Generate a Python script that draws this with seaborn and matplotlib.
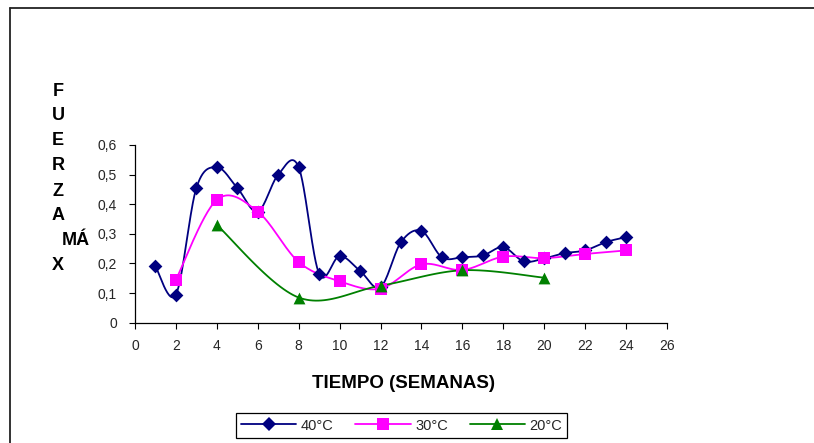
import numpy as np
import pandas as pd
import matplotlib
matplotlib.use("Agg")
import matplotlib.pyplot as plt
from matplotlib.lines import Line2D
import seaborn as sns

# Measured maximum force per storage temperature
weeks_40 = [1, 2, 3, 4, 5, 6, 7, 8, 9, 10, 11, 12, 13, 14, 15, 16, 17, 18, 19, 20, 21, 22, 23, 24]
force_40 = [0.19, 0.095, 0.455, 0.525, 0.455, 0.375, 0.50, 0.525, 0.165, 0.225, 0.175, 0.12,
            0.272, 0.31, 0.221, 0.221, 0.227, 0.255, 0.207, 0.217, 0.235, 0.244, 0.272, 0.289]
weeks_30 = [2, 4, 6, 8, 10, 12, 14, 16, 18, 20, 22, 24]
force_30 = [0.145, 0.415, 0.375, 0.205, 0.14, 0.115, 0.197, 0.178, 0.223, 0.218, 0.232, 0.244]
weeks_20 = [4, 8, 12, 16, 20]
force_20 = [0.33, 0.085, 0.125, 0.177, 0.152]

labels = ["40°C", "30°C", "20°C"]
colors = ["#000080", "#FF00FF", "#008000"]
markers = ["D", "s", "^"]
msizes = [7, 9, 8.5]

x_ticks = list(range(0, 27, 2))
y_ticks = [0, 0.1, 0.2, 0.3, 0.4, 0.5, 0.6]
y_ticklabels = ["0", "0,1", "0,2", "0,3", "0,4", "0,5", "0,6"]

sns.set_style("white")
plt.rcParams["font.family"] = ["Liberation Sans", "DejaVu Sans"]


def smooth_curve(x, y, n=30):
    """Cubic Bezier smoothing through every point (Catmull-Rom control points)."""
    p = np.column_stack([x, y]).astype(float)
    pts = [p[0]]
    for i in range(len(p) - 1):
        p0 = p[i - 1] if i > 0 else p[i]
        p1, p2 = p[i], p[i + 1]
        p3 = p[i + 2] if i + 2 < len(p) else p[i + 1]
        c1 = p1 + (p2 - p0) / 6.0
        c2 = p2 - (p3 - p1) / 6.0
        t = np.linspace(0, 1, n)[1:, None]
        seg = ((1 - t) ** 3) * p1 + 3 * ((1 - t) ** 2) * t * c1 + 3 * (1 - t) * t ** 2 * c2 + t ** 3 * p2
        pts.extend(seg)
    pts = np.array(pts)
    return pts[:, 0], pts[:, 1]


W, H = 814, 443
fig = plt.figure(figsize=(W / 100, H / 100), dpi=100)
ax = fig.add_axes([135 / W, 1 - 322.7 / H, (667 - 135) / W, (322.7 - 145) / H])

series = [(weeks_40, force_40), (weeks_30, force_30), (weeks_20, force_20)]
for (wx, fy), lab, col, mk, ms in zip(series, labels, colors, markers, msizes):
    sx, sy = smooth_curve(wx, fy)
    ax.plot(sx, sy, color=col, lw=1.3, zorder=2)
    df = pd.DataFrame({"semana": wx, "fuerza": fy})
    sns.scatterplot(data=df, x="semana", y="fuerza", ax=ax, marker=mk, s=ms ** 2,
                    color=col, edgecolor=col, linewidth=0, zorder=3, legend=False)

ax.set_xlim(0, 26)
ax.set_ylim(0, 0.6)
ax.set_xticks(x_ticks)
ax.set_yticks(y_ticks)
ax.set_yticklabels(y_ticklabels)
ax.set_xlabel("")
ax.set_ylabel("")
ax.tick_params(axis="both", labelsize=10, length=4, width=0.8, direction="out",
               color="black", bottom=True, left=True)
ax.tick_params(axis="x", pad=8)
ax.tick_params(axis="y", pad=9)
for side in ["top", "right"]:
    ax.spines[side].set_visible(False)
for side in ["left", "bottom"]:
    ax.spines[side].set_color("black")
    ax.spines[side].set_linewidth(0.9)

# Vertical axis title, stacked letter by letter
title_bits = [("F", 58, 91), ("U", 58, 116), ("E", 58, 141), ("R", 58, 166),
              ("Z", 58, 191), ("A", 58, 215), ("MÁ", 76, 240), ("X", 58, 266)]
for txt, px, py in title_bits:
    fig.text(px / W, 1 - py / H, txt, ha="center", va="center",
             fontsize=13, fontweight="bold", color="black")

fig.text(403 / W, 1 - 384 / H, "TIEMPO (SEMANAS)", ha="center", va="center",
         fontsize=13.5, fontweight="bold", color="black")

handles = [Line2D([0], [0], color=c, marker=m, markersize=s, lw=1.3,
                  markeredgewidth=0)
           for c, m, s in zip(colors, markers, msizes)]
leg = fig.legend(handles, labels, loc="center", bbox_to_anchor=(401.5 / W, 1 - 425.5 / H),
                 ncol=3, fontsize=10.5, frameon=True, fancybox=False, framealpha=1,
                 edgecolor="black", handlelength=3.8, columnspacing=1.5,
                 handletextpad=0.3, borderpad=0.35)
leg.get_frame().set_linewidth(0.9)

# Outer chart frame (left and top edges)
fig.add_artist(Line2D([10 / W, 10 / W], [0, 1 - 8 / H], color="#222222", lw=1.3,
                      transform=fig.transFigure))
fig.add_artist(Line2D([10 / W, 1], [1 - 8 / H, 1 - 8 / H], color="#222222", lw=1.3,
                      transform=fig.transFigure))

fig.savefig("out.png", dpi=100, facecolor="white")
